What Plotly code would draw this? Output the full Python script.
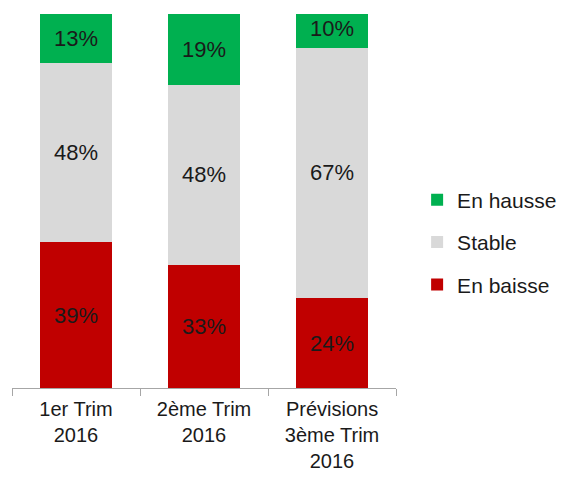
import plotly.graph_objects as go

categories = ["1er Trim<br>2016", "2ème Trim<br>2016", "Prévisions<br>3ème Trim<br>2016"]
en_baisse = [39, 33, 24]
stable = [48, 48, 67]
en_hausse = [13, 19, 10]

series = [
    ("En baisse", en_baisse, "#C00000", 3),
    ("Stable", stable, "#D9D9D9", 2),
    ("En hausse", en_hausse, "#00B050", 1),
]

FONT = "Liberation Sans, Arial, sans-serif"

fig = go.Figure()
for name, vals, col, rank in series:
    fig.add_trace(go.Bar(
        x=categories, y=vals, name=name,
        marker=dict(color=col, line=dict(width=0)),
        text=[f"{v}%" for v in vals],
        textposition="inside", insidetextanchor="middle",
        textangle=0, constraintext="none",
        textfont=dict(family=FONT, size=22, color="#1a1a1a"),
        legendgroup=name, legendrank=rank,
        width=0.555,
    ))

# page body has an 8px default margin; figure sized/margined to compensate
fig.update_layout(
    barmode="stack",
    width=563, height=469,
    margin=dict(l=4, r=175, t=6, b=89),
    paper_bgcolor="white", plot_bgcolor="white",
    font=dict(family=FONT, size=21, color="#1a1a1a"),
    showlegend=True,
    legend=dict(
        traceorder="grouped", x=1.055, xanchor="left", y=0.39, yanchor="middle",
        font=dict(size=21, color="#1a1a1a"), tracegroupgap=12,
        itemwidth=30,
    ),
)
fig.update_xaxes(
    showline=True, linecolor="#A6A6A6", linewidth=1,
    ticks="outside", tickson="boundaries", ticklen=7, tickcolor="#A6A6A6",
    range=[-0.5, 2.5], tickfont=dict(family=FONT, size=20, color="#1a1a1a"),
    ticklabelstandoff=3,
    showgrid=False, automargin=False,
)
fig.update_yaxes(range=[0, 100], visible=False, showgrid=False)

fig.write_html("out.html")
